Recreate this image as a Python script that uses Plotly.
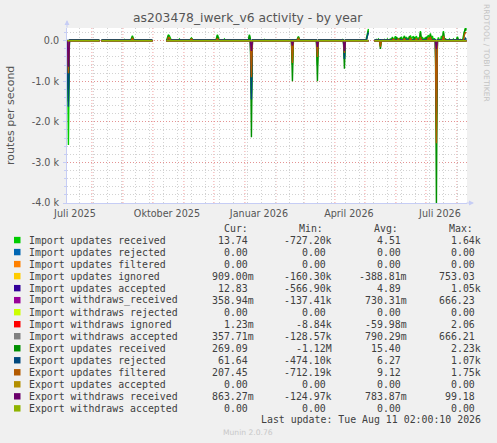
import pandas as pd
import plotly.graph_objects as go

# ── canvas / plot box (px) ──
W, H = 497, 443
L, R, T, B = 67, 467, 28, 202.7

X_START, X_END = "2025-07-07 02:00", "2026-08-11 02:00"
Y_MIN, Y_MAX = -4000, 313

# ── data ──
# spans with samples; the rrd has holes between them
SEG_START = ["2025-07-07", "2025-08-10", "2025-10-14", "2026-05-10"]
SEG_END = ["2025-08-08", "2025-09-30", "2026-05-04", "2026-08-10"]

NAMES = [
    "Import updates received", "Import updates rejected", "Import updates filtered",
    "Import updates ignored", "Import updates accepted", "Import withdraws_received",
    "Import withdraws rejected", "Import withdraws ignored", "Import withdraws accepted",
    "Export updates received", "Export updates rejected", "Export updates filtered",
    "Export updates accepted", "Export withdraws received", "Export withdraws accepted",
]
COLORS = [
    "#00cc00", "#0066b3", "#ff8000", "#ffcc00", "#330099", "#990099", "#ccff00",
    "#ff0000", "#808080", "#008f00", "#00487d", "#b35a00", "#b38f00", "#6b006b", "#8fb300",
]
# usual level of each series, routes/s
BASE = [3, 0, 0, 0, 3, 0, 0, 0, 0, 8, 25, 5, 0, 0, 0]

CUR = ["13.74", "0.00", "0.00", "909.00m", "12.83", "358.94m", "0.00", "1.23m",
       "357.71m", "269.09", "61.64", "207.45", "0.00", "863.27m", "0.00"]
MIN = ["-727.20k", "0.00", "0.00", "-160.30k", "-566.90k", "-137.41k", "0.00", "-8.84k",
       "-128.57k", "-1.12M", "-474.10k", "-712.19k", "0.00", "-124.97k", "0.00"]
AVG = ["4.51", "0.00", "0.00", "-388.81m", "4.89", "730.31m", "0.00", "-59.98m",
       "790.29m", "15.40", "6.27", "9.12", "0.00", "783.87m", "0.00"]
MAX = ["1.64k", "0.00", "0.00", "753.03", "1.05k", "666.23", "0.00", "2.06",
       "666.21", "2.23k", "1.07k", "1.75k", "0.00", "99.18", "0.00"]

# notable days per series (day -> routes/s), everything else sits at BASE
IMP_RECEIVED = {
    "2025-07-08": -2570, "2025-09-02": 30, "2025-09-09": 60, "2025-09-10": 120, "2025-09-11": 50,
    "2025-10-15": 80, "2025-10-16": 150, "2025-10-17": 120, "2025-10-18": 60, "2025-10-27": 40,
    "2025-11-07": 40, "2025-11-08": 70, "2025-11-09": 40, "2025-12-03": 60, "2025-12-04": 150,
    "2025-12-05": 70, "2025-12-11": 40, "2026-01-05": 150, "2026-01-06": 40, "2026-01-07": -1300,
    "2026-01-20": 30, "2026-02-17": -600, "2026-02-22": 50, "2026-02-23": 100, "2026-02-24": 40,
    "2026-03-14": -600, "2026-04-08": 30, "2026-04-10": -450, "2026-05-02": 60, "2026-05-03": 150,
    "2026-05-04": 290, "2026-05-12": 30, "2026-05-14": 40, "2026-05-16": -120, "2026-05-20": 30,
    "2026-05-23": 40, "2026-05-26": 50, "2026-05-28": 90, "2026-05-30": 60, "2026-05-31": 110,
    "2026-06-02": 70, "2026-06-04": 60, "2026-06-06": 100, "2026-06-08": 80, "2026-06-09": 120,
    "2026-06-11": 90, "2026-06-13": 70, "2026-06-15": 130, "2026-06-17": 90, "2026-06-18": 100,
    "2026-06-20": 70, "2026-06-21": 110, "2026-06-23": 80, "2026-06-25": 240, "2026-06-27": 90,
    "2026-06-29": 60, "2026-06-30": 70, "2026-07-02": 90, "2026-07-03": 140, "2026-07-05": 180,
    "2026-07-07": 120, "2026-07-09": 60, "2026-07-11": -2200, "2026-07-13": 80, "2026-07-16": 120,
    "2026-07-18": 240, "2026-07-20": 60, "2026-07-24": 40, "2026-07-28": 40, "2026-08-01": 100,
    "2026-08-04": 30, "2026-08-07": 120, "2026-08-08": 250, "2026-08-09": 320, "2026-08-10": 280,
}
IMP_IGNORED = {"2025-10-16": 40, "2026-05-16": -100, "2026-06-15": 50, "2026-07-05": 60}
IMP_ACCEPTED = {"2025-07-08": -1200, "2026-01-07": -1000, "2026-07-11": -1500}
IMP_WD_RECEIVED = {"2025-07-08": -500, "2026-01-07": -200, "2026-07-11": -150}
IMP_WD_IGNORED = {"2026-01-07": -30}
IMP_WD_ACCEPTED = {"2025-07-08": -450, "2026-01-07": -180}
EXP_RECEIVED = {
    "2025-07-08": -1500, "2025-09-10": 100, "2025-10-16": 130, "2025-11-08": 60, "2025-12-04": 130,
    "2026-01-05": 130, "2026-01-07": -2380, "2026-02-17": -1000, "2026-02-23": 90,
    "2026-03-14": -1000, "2026-04-10": -690, "2026-05-03": 120, "2026-05-04": 250,
    "2026-05-16": -200, "2026-05-28": 70, "2026-06-01": 90, "2026-06-05": 80, "2026-06-09": 100,
    "2026-06-14": 110, "2026-06-19": 90, "2026-06-25": 200, "2026-07-01": 100, "2026-07-05": 150,
    "2026-07-11": -4100, "2026-07-18": 200, "2026-08-01": 80, "2026-08-08": 220, "2026-08-09": 280,
    "2026-08-10": 250,
}
EXP_REJECTED = {
    "2025-07-08": -1630, "2026-01-07": -1450, "2026-03-14": -300, "2026-04-10": -450,
    "2026-05-03": 120, "2026-05-04": 200, "2026-06-10": 50, "2026-06-25": 60,
    "2026-07-05": 70, "2026-07-11": -1800, "2026-07-18": 80, "2026-08-09": 60,
}
EXP_FILTERED = {
    "2025-07-08": -800, "2025-09-10": 70, "2025-10-16": 80, "2025-10-17": 70, "2025-11-08": 50,
    "2025-12-04": 60, "2026-01-07": -900, "2026-02-17": -550, "2026-02-23": 70,
    "2026-03-14": -400, "2026-04-10": -300, "2026-05-16": -150, "2026-05-29": 50,
    "2026-06-03": 50, "2026-06-09": 60, "2026-06-15": 70, "2026-06-21": 60, "2026-06-25": 90,
    "2026-07-03": 80, "2026-07-05": 100, "2026-07-11": -2530, "2026-07-18": 120,
    "2026-08-08": 150, "2026-08-09": 200, "2026-08-10": 200,
}
EXP_WD_RECEIVED = {
    "2025-07-08": -640, "2026-01-07": -250, "2026-02-17": -120, "2026-03-14": -150,
    "2026-04-10": -250, "2026-07-11": -200,
}
EVENTS = [IMP_RECEIVED, {}, {}, IMP_IGNORED, IMP_ACCEPTED, IMP_WD_RECEIVED, {},
          IMP_WD_IGNORED, IMP_WD_ACCEPTED, EXP_RECEIVED, EXP_REJECTED, EXP_FILTERED,
          {}, EXP_WD_RECEIVED, {}]

# ── build daily series ──
days = pd.date_range(SEG_START[0], SEG_END[-1], freq="D")
segs = list(zip(pd.to_datetime(SEG_START), pd.to_datetime(SEG_END)))
x_vals = days + pd.Timedelta(hours=12)


def series(ev, base):
    ev = {pd.Timestamp(k): v for k, v in ev.items()}
    out = []
    for d in days:
        if any(a <= d <= b for a, b in segs):
            out.append(ev.get(d, base))
        else:
            out.append(None)
    return out


def fx(px):
    return (px - L) / (R - L)


def fy(py):
    return (B - py) / (B - T)


SANS = "DejaVu Sans, Verdana, sans-serif"
MONO = "DejaVu Sans Mono, monospace"
GREY = "#555555"
TXT = "#404040"

fig = go.Figure()
for name, col, base, ev in zip(NAMES, COLORS, BASE, EVENTS):
    fig.add_trace(go.Scatter(x=x_vals, y=series(ev, base), mode="lines", name=name,
                             line=dict(color=col, width=1.4), connectgaps=False,
                             showlegend=False, hoverinfo="skip"))

# month grid (red) drawn as shapes, labels sit mid-month like rrdtool
month_starts = pd.date_range("2025-08-01", "2026-08-01", freq="MS")
shapes = [dict(type="line", xref="x", yref="paper", x0=m, x1=m, y0=0, y1=1, layer="below",
               line=dict(color="rgba(235,120,120,0.7)", width=1, dash="1px,2px"))
          for m in month_starts]

label_days = ["2025-07-15", "2025-10-15", "2026-01-15", "2026-04-15", "2026-07-15"]
label_text = ["Juli 2025", "Oktober 2025", "Januar 2026", "April 2026", "Juli 2026"]
biweekly = pd.date_range("2025-07-20", "2026-08-10", freq="14D")

fig.update_layout(
    width=W, height=H,
    margin=dict(l=L, r=W - R, t=T, b=H - B),
    paper_bgcolor="#f0f0f0", plot_bgcolor="#ffffff",
    font=dict(family=SANS, color=GREY, size=10),
    showlegend=False,
    shapes=shapes,
    xaxis=dict(
        type="date", range=[X_START, X_END], tickmode="array",
        tickvals=label_days, ticktext=label_text, showgrid=False, ticks="",
        tickfont=dict(size=9.6, color=GREY), ticklabelstandoff=1,
        showline=True, linecolor="#c6cdf5", linewidth=1, zeroline=False,
        minor=dict(tickvals=list(biweekly), showgrid=True, gridcolor="#d2d2d2",
                   griddash="1px,2px", gridwidth=1, ticks=""),
    ),
    yaxis=dict(
        range=[Y_MIN, Y_MAX], tickmode="array",
        tickvals=[0, -1000, -2000, -3000, -4000],
        ticktext=["0.0", "-1.0 k", "-2.0 k", "-3.0 k", "-4.0 k"],
        tickfont=dict(size=9.6, color=GREY),
        showgrid=True, gridcolor="rgba(235,120,120,0.7)", griddash="1px,2px", gridwidth=1,
        ticks="outside", ticklen=3, tickcolor="#c6cdf5", ticklabelstandoff=2,
        showline=True, linecolor="#c6cdf5", linewidth=1, zeroline=False,
        minor=dict(tickvals=list(range(-3800, 300, 200)), showgrid=True, gridcolor="#d2d2d2",
                   griddash="1px,2px", gridwidth=1, ticks="outside", ticklen=2,
                   tickcolor="#c6cdf5"),
    ),
)

ann = []
# title, axis title, watermark
ann.append(dict(text="as203478_iwerk_v6 activity - by year", x=fx(248), y=fy(18.5),
                font=dict(size=12.3, color=GREY)))
ann.append(dict(text="routes per second", x=fx(10.5), y=fy(115.3), textangle=-90,
                font=dict(size=11, color=GREY)))
ann.append(dict(text="RRDTOOL / TOBI OETIKER", x=fx(487), y=fy(53), textangle=90,
                font=dict(size=7.6, color="#c4c4c4")))
# axis arrows
ann.append(dict(text="", x=0, y=fy(20), showarrow=True, ax=0, ay=9, arrowhead=2,
                arrowsize=1, arrowwidth=1, arrowcolor="#c6cdf5"))
ann.append(dict(text="", x=fx(474), y=0, showarrow=True, ax=-9, ay=0, arrowhead=2,
                arrowsize=1, arrowwidth=1, arrowcolor="#c6cdf5"))

# legend table
CW = 0.602 * 9.9
ROW0, DROW = 239.7, 12
for hx, ht in zip([221.7, 297.3, 372, 447], ["Cur:", "Min:", "Avg:", "Max:"]):
    ann.append(dict(text=ht, x=fx(hx), y=fy(228.3), xanchor="left",
                    font=dict(family=MONO, size=9.9, color=TXT)))
col_right = [255.5, 333.5, 409, 482.5]
for i, name in enumerate(NAMES):
    ry = ROW0 + DROW * i
    fig.add_shape(type="rect", xref="paper", yref="paper", x0=fx(14), x1=fx(20.5),
                  y0=fy(ry + 3.2), y1=fy(ry - 3.2), fillcolor=COLORS[i], line=dict(width=0))
    ann.append(dict(text=name, x=fx(26.7), y=fy(ry), xanchor="left",
                    font=dict(family=MONO, size=9.9, color=TXT)))
    for rx, val in zip(col_right, [CUR[i], MIN[i], AVG[i], MAX[i]]):
        shift = 0 if val[-1] in "kmM" else CW
        ann.append(dict(text=val, x=fx(rx - shift), y=fy(ry), xanchor="right",
                        font=dict(family=MONO, size=9.9, color=TXT)))

ann.append(dict(text="Last update: Tue Aug 11 02:00:10 2026", x=fx(482.5), y=fy(419.3),
                xanchor="right", font=dict(family=MONO, size=9.9, color=TXT)))
ann.append(dict(text="Munin 2.0.76", x=fx(248), y=fy(432), font=dict(size=7.6, color="#c8c8c8")))

for a in ann:
    a.setdefault("xref", "paper")
    a.setdefault("yref", "paper")
    a.setdefault("showarrow", False)
    a.setdefault("xanchor", "center")
    a.setdefault("yanchor", "middle")
fig.update_layout(annotations=ann)

# the page's default body margin would push the 497x443 figure off the window
fig.write_html("out.html", config={"displayModeBar": False},
               post_script="document.body.style.margin='0';"
                           "document.body.style.overflow='hidden';")
